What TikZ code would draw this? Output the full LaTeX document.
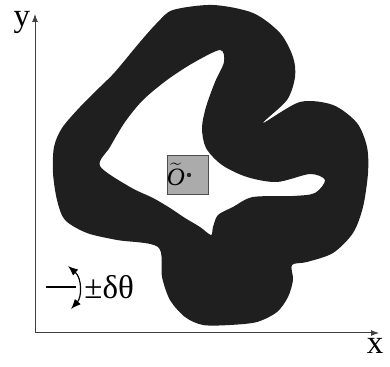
\documentclass[tikz,border=0pt]{standalone}
\usepackage{fontspec}
\setmainfont{Liberation Serif}
\usepackage{tikz}
\usetikzlibrary{arrows.meta,positioning,calc}

\begin{document}
\begin{tikzpicture}[
    x=0.5pt, y=-0.5pt,
    band/.style={fill=black!88, draw=none, even odd rule},
    axis/.style={draw=black!75, line width=0.5pt, -{Latex[length=4pt,width=3pt]}},
    axlabel/.style={font=\fontsize{16.5}{18}\selectfont, inner sep=0pt},
    objbox/.style={rectangle, draw=black!70, fill=black!33, line width=0.5pt, minimum width=20.5pt, minimum height=19.5pt, inner sep=0pt},
    rotarrow/.style={line width=0.6pt, {Latex[length=5pt,width=4pt]}-{Latex[length=5pt,width=4pt]}}
]
\useasboundingbox (0,0) rectangle (390,367);

% Workspace band (outer contour and hole)
\path[band]
  plot[smooth cycle, tension=0.5] coordinates {
    (173,10) (213,5) (253,13) (280,33) (293,57) (295,77) (287,100) (263,123)
    (300,102) (333,105) (357,123) (367,147) (368,173) (363,207) (353,233)
    (333,253) (307,262) (292,265) (293,280) (288,297) (277,312) (257,322)
    (230,325) (203,325) (185,317) (170,300) (162,277) (158,247) (117,240)
    (87,233) (65,220) (57,200) (53,173) (54,147) (62,128) (80,107) (100,87)
    (115,72) (140,42) (157,23)}
  plot[smooth cycle, tension=0.5] coordinates {
    (220,50) (224,62) (215,82) (206,107) (202,128) (206,148) (222,165)
    (247,177) (277,182) (310,174) (325,180) (315,193) (293,196) (253,197)
    (233,207) (218,215) (213,227) (211,235) (200,227) (185,218) (170,208)
    (153,198) (130,187) (100,166) (110,147) (125,122) (143,100) (167,80)
    (193,63)};

% Axes
\coordinate (origin) at (35,333);
\coordinate (ytip) at (35,14);
\coordinate (xtip) at (379,333);
\draw[axis] (origin) -- (ytip);
\draw[axis] (origin) -- (xtip);
\node[axlabel] (ylab) at (22,22) {y};
\node[axlabel] (xlab) at (375,346) {x};

% Object frame
\node[objbox] (obj) at (187.5,175.5) {};
\node[inner sep=0pt, font=\fontsize{12.5}{14}\selectfont] (otilde) at (176,174) {$\widetilde{\mbox{\itshape O}}$};
\fill[black!85] (189,175) circle (1.1pt);

% Rotation tolerance
\coordinate (refL) at (46,287);
\coordinate (refR) at (76,287);
\coordinate (rtop) at (68,266);
\coordinate (rbot) at (71,309);
\draw[line width=0.6pt] (refL) -- (refR);
\draw[rotarrow] (rtop) .. controls (82,278) and (82,297) .. (rbot);
\node[axlabel, anchor=west] (dtheta) at (84,287) {±δθ};

\end{tikzpicture}
\end{document}
